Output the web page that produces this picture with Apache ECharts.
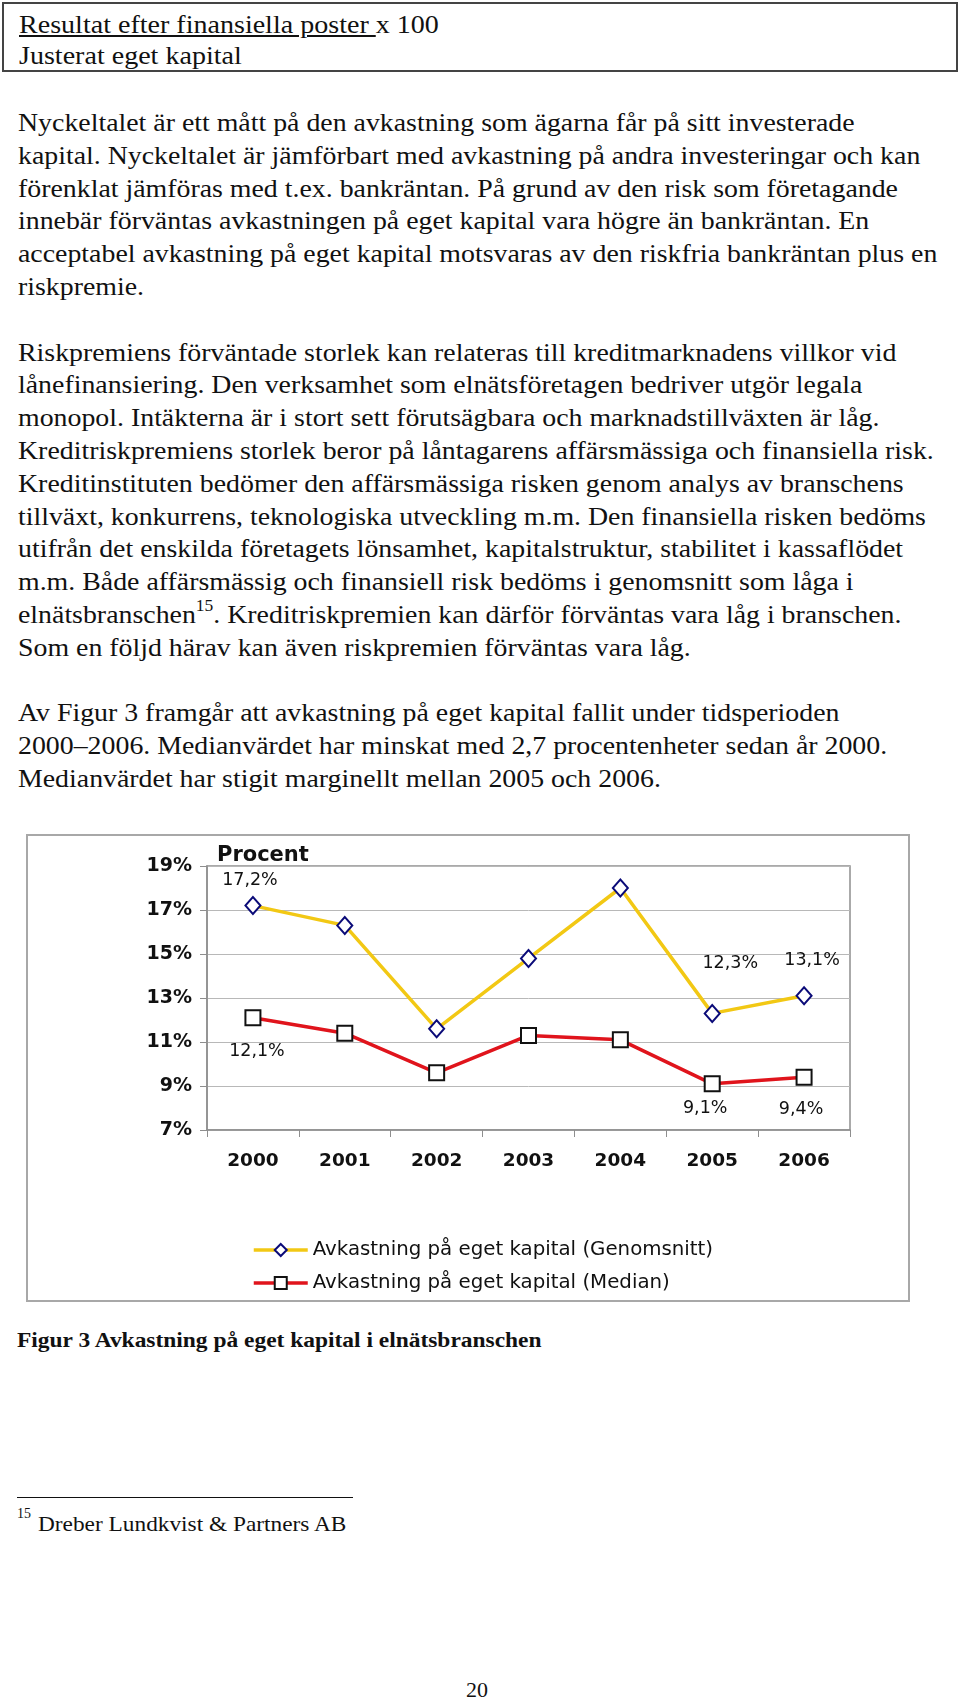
<!DOCTYPE html>
<html>
<head>
<meta charset="utf-8">
<script src="https://cdn.jsdelivr.net/npm/echarts@6/dist/echarts.min.js"></script>
<style>
  html,body{margin:0;padding:0;background:#fff;}
  body{width:960px;height:1700px;position:relative;font-family:"Liberation Serif","Times New Roman",serif;color:#111;}
  .hdr{position:absolute;left:2px;top:2px;width:956px;height:70px;box-sizing:border-box;border:2px solid #444;}
  .hdr div{position:absolute;left:15px;font-size:25.5px;line-height:31px;white-space:nowrap;transform:scaleX(1.1);transform-origin:0 0;}
  .body{position:absolute;left:18px;top:107px;font-size:25.5px;line-height:32.8px;white-space:nowrap;transform:scaleX(1.092);transform-origin:0 0;}
  .body sup{font-size:16px;line-height:0;position:relative;top:-2px;}
  #chart{position:absolute;left:26px;top:834px;width:884px;height:468px;box-sizing:border-box;border:2px solid #a8a8a8;}
  .cap{position:absolute;left:17px;top:1326px;font-size:21.5px;font-weight:bold;line-height:28px;white-space:nowrap;transform:scaleX(1.09);transform-origin:0 0;}
  .fnline{position:absolute;left:17px;top:1497px;width:336px;height:0;border-top:1.5px solid #111;}
  .fnsup{position:absolute;left:17px;top:1506px;font-size:14px;line-height:16px;}
  .fn{position:absolute;left:38px;top:1510px;font-size:22px;line-height:28px;white-space:nowrap;transform:scaleX(1.06);transform-origin:0 0;}
  .pg{position:absolute;left:466px;top:1677px;font-size:22px;line-height:26px;}
</style>
</head>
<body>
<div class="hdr">
  <div style="top:5px;"><span style="text-decoration:underline;">Resultat efter finansiella poster </span>x 100</div>
  <div style="top:36px;">Justerat eget kapital</div>
</div>
<div class="body">
Nyckeltalet är ett mått på den avkastning som ägarna får på sitt investerade<br>
kapital. Nyckeltalet är jämförbart med avkastning på andra investeringar och kan<br>
förenklat jämföras med t.ex. bankräntan. På grund av den risk som företagande<br>
innebär förväntas avkastningen på eget kapital vara högre än bankräntan. En<br>
acceptabel avkastning på eget kapital motsvaras av den riskfria bankräntan plus en<br>
riskpremie.<br>
<br>
Riskpremiens förväntade storlek kan relateras till kreditmarknadens villkor vid<br>
lånefinansiering. Den verksamhet som elnätsföretagen bedriver utgör legala<br>
monopol. Intäkterna är i stort sett förutsägbara och marknadstillväxten är låg.<br>
Kreditriskpremiens storlek beror på låntagarens affärsmässiga och finansiella risk.<br>
Kreditinstituten bedömer den affärsmässiga risken genom analys av branschens<br>
tillväxt, konkurrens, teknologiska utveckling m.m. Den finansiella risken bedöms<br>
utifrån det enskilda företagets lönsamhet, kapitalstruktur, stabilitet i kassaflödet<br>
m.m. Både affärsmässig och finansiell risk bedöms i genomsnitt som låga i<br>
elnätsbranschen<sup>15</sup>. Kreditriskpremien kan därför förväntas vara låg i branschen.<br>
Som en följd härav kan även riskpremien förväntas vara låg.<br>
<br>
Av Figur 3 framgår att avkastning på eget kapital fallit under tidsperioden<br>
2000–2006. Medianvärdet har minskat med 2,7 procentenheter sedan år 2000.<br>
Medianvärdet har stigit marginellt mellan 2005 och 2006.
</div>
<div id="chart"></div>
<div class="cap">Figur 3 Avkastning på eget kapital i elnätsbranschen</div>
<div class="fnline"></div>
<div class="fnsup">15</div>
<div class="fn">Dreber Lundkvist &amp; Partners AB</div>
<div class="pg">20</div>

<script>
// ---- data ----
var years = ['2000', '2001', '2002', '2003', '2004', '2005', '2006'];
var seriesNames = ['Avkastning på eget kapital (Genomsnitt)', 'Avkastning på eget kapital (Median)'];
var genomsnitt = [17.2, 16.3, 11.6, 14.8, 18.0, 12.3, 13.1];
var median = [12.1, 11.4, 9.6, 11.3, 11.1, 9.1, 9.4];
var yTicks = [7, 9, 11, 13, 15, 17, 19];

// ---- label placement (style only) ----
var avgLabelOffsets = {0: [-3, -25], 5: [18, -50], 6: [8, -35]};
var medLabelOffsets = {0: [4, 34], 5: [-7, 25], 6: [-3, 32]};

function fmt(v) { return v.toFixed(1).replace('.', ',') + '%'; }
function buildData(vals, offsets) {
  return vals.map(function (v, i) {
    var o = offsets[i];
    if (!o) return v;
    return { value: v, label: { show: true, position: 'inside', offset: o } };
  });
}

var labelFont = { fontFamily: 'DejaVu Sans', fontSize: 17.5, color: '#111' };
var legendBase = {
  orient: 'vertical', left: 224,
  itemWidth: 54, itemHeight: 15, itemGap: 0,
  lineStyle: { width: 3.5 },
  textStyle: { fontFamily: 'DejaVu Sans', fontSize: 19.8, color: '#111', lineHeight: 22 }
};

var chart = echarts.init(document.getElementById('chart'), null, { renderer: 'canvas' });
chart.setOption({
  animation: false,
  backgroundColor: '#fff',
  title: {
    text: 'Procent', left: 189, top: 8, padding: 0,
    textStyle: { fontFamily: 'DejaVu Sans', fontSize: 21, fontWeight: 'bold', color: '#111', lineHeight: 24 }
  },
  grid: { left: 179, right: 58, top: 30, bottom: 170, show: true, borderColor: '#8e8e8e', borderWidth: 1.5, backgroundColor: 'transparent' },
  legend: [
    Object.assign({ top: 403, padding: 0, data: [seriesNames[0]] }, legendBase),
    Object.assign({ top: 436, padding: 0, data: [seriesNames[1]] }, legendBase)
  ],
  xAxis: {
    type: 'category', data: years, boundaryGap: true,
    axisLine: { lineStyle: { color: '#8e8e8e', width: 1.5 } },
    axisTick: { show: true, inside: false, length: 7, lineStyle: { color: '#8e8e8e' } },
    axisLabel: { margin: 22, fontFamily: 'DejaVu Sans', fontSize: 18.5, fontWeight: 'bold', color: '#111' },
    splitLine: { show: false }
  },
  yAxis: {
    type: 'value', min: yTicks[0], max: yTicks[yTicks.length - 1], interval: 2,
    axisLine: { show: true, lineStyle: { color: '#8e8e8e', width: 1.5 } },
    axisTick: { show: true, inside: false, length: 7, lineStyle: { color: '#8e8e8e' } },
    axisLabel: { margin: 15, fontFamily: 'DejaVu Sans', fontSize: 19, fontWeight: 'bold', color: '#111', formatter: '{value}%' },
    splitLine: { show: true, lineStyle: { color: '#b8b8b8', width: 1 } }
  },
  series: [
    {
      name: seriesNames[0], type: 'line', data: buildData(genomsnitt, avgLabelOffsets),
      symbol: 'diamond', symbolSize: [15, 17], showAllSymbol: true,
      lineStyle: { color: '#F2C814', width: 3.5 },
      itemStyle: { color: '#fff', borderColor: '#0a0a78', borderWidth: 2 },
      label: Object.assign({ show: false, formatter: function (p) { return fmt(p.value); } }, labelFont),
      z: 3
    },
    {
      name: seriesNames[1], type: 'line', data: buildData(median, medLabelOffsets),
      symbol: 'rect', symbolSize: 15, showAllSymbol: true,
      lineStyle: { color: '#E0141C', width: 3.5 },
      itemStyle: { color: '#fff', borderColor: '#111', borderWidth: 2 },
      label: Object.assign({ show: false, formatter: function (p) { return fmt(p.value); } }, labelFont),
      z: 3
    }
  ]
});
</script>
</body>
</html>
